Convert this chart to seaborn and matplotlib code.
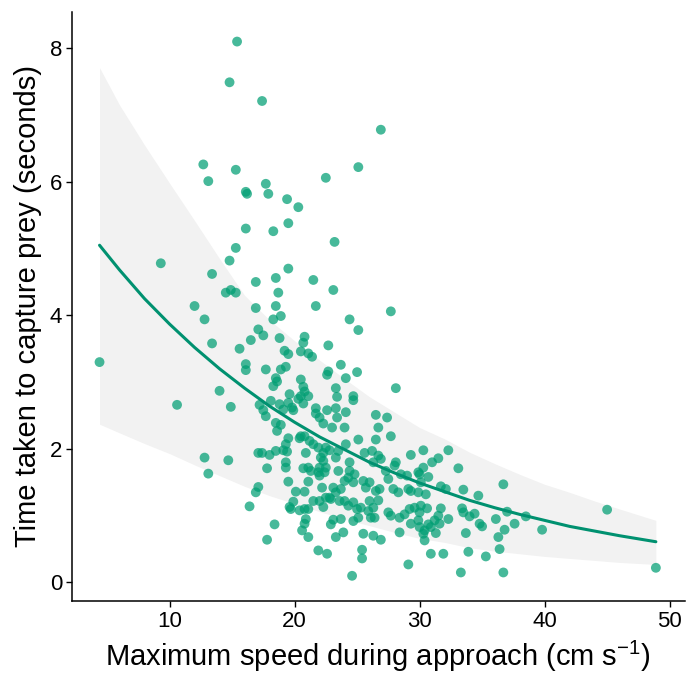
import matplotlib
matplotlib.use("Agg")
import matplotlib.pyplot as plt
import seaborn as sns
import pandas as pd

# ---- data ----
speed = [
    15.4, 14.8, 17.4, 26.9, 12.7, 15.3, 13.1, 17.7, 16.1, 16.2, 17.9, 19.4, 20.3, 22.5, 25.1,
    16.1, 18.3, 19.5, 23.2, 15.3, 14.8, 9.3, 13.4, 16.9, 18.5, 19.5, 21.5,
    14.5, 14.9, 15.3, 12.0, 12.8, 13.4, 15.6, 16.5, 16.1, 16.1, 4.4, 14.0, 10.6, 14.9,
    12.8, 14.7, 13.1, 16.4,
    23.1, 18.7, 16.9, 18.5, 21.7, 18.9, 18.3, 17.1, 17.5, 18.8, 20.8, 20.7, 20.5, 22.7,
    19.2, 19.5, 21.1, 21.4, 17.7, 18.9, 19.3, 18.5, 18.6, 18.3, 20.5, 20.7, 20.8, 20.5,
    21.1, 20.3, 20.7, 22.7, 22.6, 23.3, 23.4, 19.6, 19.5, 18.1, 17.2, 17.5, 18.8, 19.1,
    19.8, 19.9, 21.7, 21.7, 22.6, 23.3, 23.4, 17.7, 18.5, 18.9, 22.0, 22.3, 23.0,
    18.6, 20.5, 20.8, 20.4, 19.5, 19.3, 19.1, 19.4, 17.1, 17.4, 18.0, 18.5, 21.2, 21.5,
    21.9, 22.5, 22.3, 22.8, 20.9, 22.1, 22.3, 22.0, 22.5, 22.4, 23.3, 23.5, 17.8, 19.3,
    19.3, 20.7, 21.1, 21.3, 21.9, 22.0, 19.5, 21.1, 17.1, 16.9, 20.1, 20.8, 19.9, 22.2,
    22.5, 22.0, 22.9, 22.3, 21.5, 21.1, 20.8, 20.4, 19.6, 19.7, 23.3, 23.6, 20.9, 20.8,
    20.6, 21.1, 18.4, 17.8, 23.1, 22.9, 23.3, 21.9, 22.6,
    27.7, 24.4, 25.1, 23.7, 25.0, 24.1, 24.7, 24.7, 28.1, 24.1, 26.5, 27.4, 24.0, 26.7,
    27.7, 26.5, 25.1, 24.1, 23.5, 25.6, 26.2, 26.7, 26.9, 26.3, 29.3, 30.3, 24.4, 24.4,
    24.8, 24.3, 24.0, 24.7, 23.7, 23.1, 28.1, 28.0, 27.3, 27.5, 28.5, 29.0, 29.9, 30.1,
    25.5, 26.0, 25.7, 26.8, 26.5, 27.9, 28.3, 29.3, 29.1, 29.9, 30.5, 22.8, 24.0, 24.7,
    24.3, 25.0, 25.3, 26.0, 26.7, 26.3, 25.9, 26.4, 26.1, 27.5, 27.7, 28.4, 28.8, 29.2,
    29.6, 30.0, 23.7, 24.7, 25.1, 29.3, 30.0, 30.4, 29.9, 28.4, 23.9, 25.5, 26.3, 26.9,
    25.4, 25.4, 29.1, 24.6,
    32.3, 31.5, 31.0, 30.3, 30.0, 33.1, 30.7, 36.7, 31.7, 32.1, 33.5, 34.7, 30.1, 30.6,
    31.7, 33.4, 33.5, 34.0, 34.4, 31.5, 31.2, 32.3, 31.6, 30.7, 30.9, 36.1, 37.0, 38.5,
    34.8, 35.0, 37.6, 36.8, 39.8, 30.3, 30.4, 31.3, 33.7, 36.3, 36.4, 30.9, 31.9, 33.9,
    35.3, 33.3, 36.7,
    45.0, 48.9,
]
capture_time = [
    8.10, 7.49, 7.21, 6.78, 6.26, 6.18, 6.01, 5.97, 5.85, 5.82, 5.82, 5.74, 5.62, 6.06, 6.22,
    5.30, 5.26, 5.38, 5.10, 5.01, 4.82, 4.78, 4.62, 4.50, 4.56, 4.70, 4.53,
    4.34, 4.38, 4.34, 4.14, 3.94, 3.58, 3.50, 3.63, 3.27, 3.18, 3.30, 2.87, 2.66, 2.63,
    1.87, 1.83, 1.63, 1.14,
    4.38, 4.34, 4.11, 4.14, 4.14, 3.99, 3.94, 3.79, 3.70, 3.66, 3.68, 3.59, 3.46, 3.55,
    3.47, 3.42, 3.43, 3.38, 3.19, 3.19, 3.23, 3.06, 3.01, 2.94, 3.04, 2.93, 2.86, 2.79,
    2.79, 2.75, 2.68, 3.16, 3.11, 2.91, 2.78, 2.82, 2.69, 2.72, 2.66, 2.58, 2.67, 2.59,
    2.62, 2.58, 2.61, 2.53, 2.58, 2.61, 2.47, 2.49, 2.39, 2.36, 2.47, 2.38, 2.32,
    2.27, 2.19, 2.19, 2.16, 2.16, 2.07, 1.98, 1.96, 1.94, 1.94, 1.91, 1.97, 2.12, 2.07,
    2.02, 2.02, 1.94, 1.98, 1.94, 1.87, 1.82, 1.72, 1.72, 1.65, 1.87, 1.67, 1.71, 1.72,
    1.80, 1.71, 1.72, 1.67, 1.65, 1.60, 1.51, 1.51, 1.43, 1.35, 1.36, 1.36, 1.21, 1.42,
    1.27, 1.22, 1.25, 1.13, 1.22, 1.10, 1.10, 1.08, 1.13, 1.10, 1.35, 1.22, 0.95, 0.88,
    0.78, 0.68, 0.87, 0.64, 0.94, 0.87, 0.68, 0.48, 0.43,
    4.06, 3.94, 3.78, 3.26, 3.15, 3.06, 2.79, 2.73, 2.91, 2.55, 2.51, 2.47, 2.32, 2.32,
    2.19, 2.14, 2.14, 2.07, 1.97, 1.94, 1.97, 1.90, 1.85, 1.80, 1.91, 1.98, 1.80, 1.67,
    1.62, 1.57, 1.52, 1.50, 1.40, 1.42, 1.80, 1.75, 1.67, 1.55, 1.62, 1.60, 1.65, 1.50,
    1.52, 1.50, 1.42, 1.40, 1.37, 1.40, 1.35, 1.37, 1.40, 1.35, 1.32, 1.27, 1.22, 1.20,
    1.15, 1.10, 1.12, 1.22, 1.23, 1.12, 1.07, 0.97, 0.97, 1.05, 1.00, 0.97, 1.02, 1.10,
    1.12, 1.05, 0.95, 0.92, 0.97, 0.88, 0.83, 0.78, 0.93, 0.75, 0.75, 0.73, 0.70, 0.64,
    0.49, 0.36, 0.27, 0.10,
    1.98, 1.86, 1.80, 1.72, 1.62, 1.71, 1.58, 1.47, 1.44, 1.40, 1.39, 1.30, 1.15, 1.11,
    1.11, 1.11, 1.05, 0.99, 1.03, 1.00, 0.93, 0.95, 0.88, 0.87, 0.83, 0.95, 1.06, 0.99,
    0.88, 0.84, 0.88, 0.79, 0.79, 0.73, 0.63, 0.74, 0.74, 0.68, 0.50, 0.43, 0.43, 0.46,
    0.39, 0.15, 0.15,
    1.09, 0.22,
]

# fitted curve and its ribbon, every ~2 units of speed
curve_speed = [4.4, 6, 8, 10, 12, 14, 16, 18, 20, 22, 24, 26, 28, 30, 32, 34, 36, 38,
               40, 42, 44, 46, 48.9]
curve_time = [5.05, 4.68, 4.25, 3.87, 3.52, 3.20, 2.91, 2.64, 2.40, 2.18, 1.99, 1.80,
              1.64, 1.49, 1.36, 1.23, 1.12, 1.02, 0.93, 0.84, 0.77, 0.70, 0.61]
band_upper = [7.71, 7.15, 6.55, 5.98, 5.42, 4.85, 4.30, 3.93, 3.62, 3.33, 3.05, 2.78,
              2.55, 2.32, 2.15, 1.95, 1.78, 1.62, 1.47, 1.35, 1.22, 1.10, 0.93]
band_lower = [2.37, 2.24, 2.08, 1.93, 1.76, 1.60, 1.44, 1.30, 1.18, 1.06, 0.95, 0.85,
              0.75, 0.66, 0.60, 0.52, 0.47, 0.43, 0.39, 0.36, 0.33, 0.30, 0.27]

pts = pd.DataFrame({"speed": speed, "time": capture_time})
fit = pd.DataFrame({"speed": curve_speed, "time": curve_time})

sns.set_theme(style="ticks")
plt.rcParams["font.family"] = ["Liberation Sans", "DejaVu Sans"]
plt.rcParams["mathtext.fontset"] = "custom"
plt.rcParams["mathtext.rm"] = "Liberation Sans"
plt.rcParams["mathtext.it"] = "Liberation Sans"

fig = plt.figure(figsize=(6.86, 6.77), dpi=100)
ax = fig.add_axes([0.105, 0.112, 0.893, 0.871])

ax.fill_between(curve_speed, band_lower, band_upper, color="#F2F2F2", linewidth=0, zorder=1)
sns.scatterplot(data=pts, x="speed", y="time", ax=ax, color="#009E73", alpha=0.72,
                s=50, edgecolor="none", zorder=2, legend=False)
sns.lineplot(data=fit, x="speed", y="time", ax=ax, color="#009170", linewidth=2.2,
             zorder=3, legend=False)

ax.set_xlim(2.2, 51.2)
ax.set_ylim(-0.28, 8.55)
ax.set_xticks([10, 20, 30, 40, 50])
ax.set_yticks([0, 2, 4, 6, 8])
ax.tick_params(axis="both", labelsize=16, length=4, width=1.0, colors="black",
               labelcolor="black", direction="out", pad=3)
for side in ["left", "bottom"]:
    ax.spines[side].set_linewidth(1.1)
    ax.spines[side].set_color("black")
for side in ["top", "right"]:
    ax.spines[side].set_visible(False)

ax.set_xlabel("Maximum speed during approach (cm s$^{\\mathregular{-1}}$)", fontsize=21,
              color="black", labelpad=5)
ax.set_ylabel("Time taken to capture prey (seconds)", fontsize=21, color="black",
              labelpad=6)

fig.savefig("out.png", dpi=100)
